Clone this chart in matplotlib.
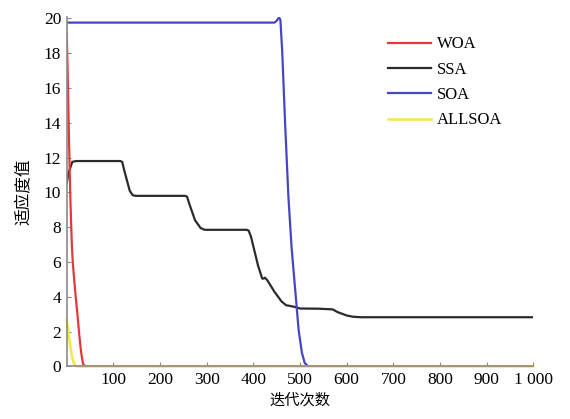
import matplotlib
matplotlib.use("Agg")
from matplotlib import pyplot as plt

# convergence curves
woa_x = [0, 2, 5, 8, 11, 13, 16, 19, 23, 27, 31, 35, 40, 1000]
woa_y = [19.2, 17.0, 13.0, 9.5, 7.0, 6.0, 5.0, 4.1, 3.0, 1.8, 0.8, 0.15, 0.0, 0.0]

ssa_x = [0, 5, 12, 20, 115, 119, 123, 135, 141, 147, 254, 258, 262, 275, 287, 296,
         386, 390, 395, 410, 419, 422, 425, 430, 445, 460, 470, 480, 489, 500,
         540, 570, 580, 600, 613, 630, 1000]
ssa_y = [10.55, 11.2, 11.75, 11.8, 11.8, 11.75, 11.3, 10.1, 9.85, 9.8, 9.8, 9.75, 9.4, 8.4, 7.95, 7.85,
         7.85, 7.8, 7.45, 5.8, 5.05, 5.05, 5.1, 4.95, 4.3, 3.75, 3.52, 3.47, 3.42, 3.33,
         3.32, 3.28, 3.13, 2.93, 2.86, 2.83, 2.83]

soa_x = [0, 445, 450, 455, 458, 462, 468, 475, 482, 490, 497, 504, 510, 518, 1000]
soa_y = [19.75, 19.75, 19.85, 20.05, 19.9, 18.0, 14.0, 9.8, 6.8, 4.3, 2.1, 0.8, 0.2, 0.0, 0.0]

allsoa_x = [0, 4, 8, 12, 16, 20, 25, 1000]
allsoa_y = [2.7, 1.9, 1.1, 0.5, 0.15, 0.02, 0.0, 0.0]

x_ticks = [100, 200, 300, 400, 500, 600, 700, 800, 900, 1000]
x_labels = ["100", "200", "300", "400", "500", "600", "700", "800", "900", "1 000"]
y_ticks = [0, 2, 4, 6, 8, 10, 12, 14, 16, 18, 20]

plt.rcParams['font.family'] = ['Liberation Serif', 'Noto Sans CJK SC']

fig = plt.figure(figsize=(5.7, 4.19), dpi=100)
ax = fig.add_axes([0.117, 0.1253, 0.8187, 0.8353])

l_ssa, = ax.plot(ssa_x, ssa_y, color="#2b2b2b", lw=1.6, label="SSA")
l_soa, = ax.plot(soa_x, soa_y, color="#4646c4", lw=1.6, label="SOA")
l_woa, = ax.plot(woa_x, woa_y, color="#e23a3a", lw=1.6, label="WOA")
l_all, = ax.plot(allsoa_x, allsoa_y, color="#f2e64a", lw=1.8, label="ALLSOA", clip_on=False)

ax.set_xlim(0, 1000)
ax.set_ylim(0, 20.1)
ax.set_xticks(x_ticks)
ax.set_xticklabels(x_labels)
ax.set_yticks(y_ticks)
ax.tick_params(direction="in", length=3, width=0.8, color="#888888", labelsize=12.5, pad=4)

for side in ["top", "right"]:
    ax.spines[side].set_visible(False)
for side in ["left", "bottom"]:
    ax.spines[side].set_color("#8a8a8a")
    ax.spines[side].set_linewidth(1.2)

ax.set_xlabel("迭代次数", fontsize=11, labelpad=4)
ax.set_ylabel("适应度值", fontsize=12, labelpad=8)

ax.legend(handles=[l_woa, l_ssa, l_soa, l_all], loc="upper left",
          bbox_to_anchor=(0.688, 0.943), frameon=False, fontsize=12,
          handlelength=2.6, handletextpad=0.35, labelspacing=0.56,
          borderpad=0, borderaxespad=0)

fig.savefig("out.png", dpi=100)
